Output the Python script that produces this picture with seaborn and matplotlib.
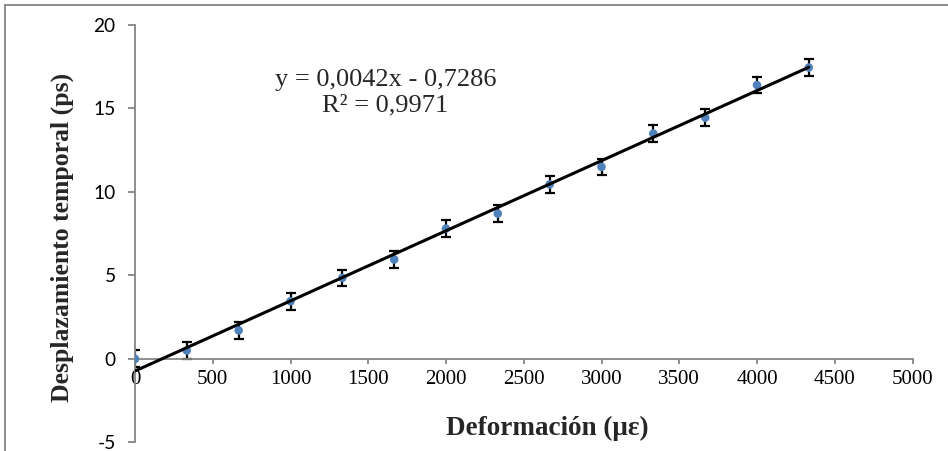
import matplotlib
matplotlib.use("Agg")
import matplotlib.pyplot as plt
import numpy as np
import pandas as pd
import seaborn as sns
from matplotlib.patches import Rectangle

# Measured time shift versus applied strain
strain = [0, 333, 667, 1000, 1333, 1667, 2000, 2333, 2667, 3000, 3333, 3667, 4000, 4333]
delay = [0.0, 0.5, 1.7, 3.45, 4.85, 5.95, 7.8, 8.7, 10.45, 11.5, 13.5, 14.45, 16.4, 17.45]
delay_err = [0.5] * len(strain)

# Linear trendline coefficients
slope = 0.0042
intercept = -0.7286
r_squared = 0.9971

x_ticks = [0, 500, 1000, 1500, 2000, 2500, 3000, 3500, 4000, 4500, 5000]
y_ticks = [-5, 0, 5, 10, 15, 20]

sns.set_theme(style="white")
serif = "Liberation Serif"
sans = "Lato"
plt.rcParams["font.family"] = [serif, "DejaVu Serif"]
plt.rcParams["xtick.labelsize"] = 15
plt.rcParams["ytick.labelsize"] = 13.8
axis_grey = "#868686"
point_blue = "#4F81BD"

W, H = 948, 451
fig = plt.figure(figsize=(W / 100, H / 100), dpi=100)
left_px, right_px, top_px, bottom_px = 135, 912.5, 25, 442.3
ax = fig.add_axes([left_px / W, 1 - bottom_px / H,
                   (right_px - left_px) / W, (bottom_px - top_px) / H])

# Spines are placed before tick labels are styled (moving a spine rebuilds ticks)
for side in ("top", "right"):
    ax.spines[side].set_visible(False)
ax.spines["bottom"].set_position(("data", 0))
for side in ("bottom", "left"):
    ax.spines[side].set_color(axis_grey)
    ax.spines[side].set_linewidth(1.3)

df = pd.DataFrame({"strain": strain, "delay": delay, "err": delay_err})

ax.errorbar(df["strain"], df["delay"], yerr=df["err"], fmt="none",
            ecolor="black", elinewidth=1.6, capsize=3.8, capthick=1.6, zorder=2)
sns.scatterplot(data=df, x="strain", y="delay", ax=ax, color=point_blue,
                s=38, edgecolor="none", zorder=3, legend=False)

fit_x = np.array([strain[0], strain[-1]], dtype=float)
fit = pd.DataFrame({"strain": fit_x, "delay": slope * fit_x + intercept})
sns.lineplot(data=fit, x="strain", y="delay", ax=ax, color="black",
             linewidth=2.2, zorder=4)

ax.set_xlim(0, 5000)
ax.set_ylim(-5, 20)
ax.set_xticks(x_ticks)
ax.set_yticks(y_ticks)
ax.set_xticklabels([str(t) for t in x_ticks], fontfamily=serif)
ax.set_yticklabels([str(t) for t in y_ticks], fontfamily=sans)
ax.tick_params(axis="x", bottom=True, direction="out", length=3.6, width=1.3,
               color=axis_grey, pad=4.5, labelcolor="black")
ax.tick_params(axis="y", left=True, direction="out", length=5, width=1.3,
               color=axis_grey, pad=9, labelcolor="black")
ax.grid(False)
ax.set_facecolor("white")
ax.set_xlabel("")
ax.set_ylabel("")

fig.text(547 / W, 1 - 428 / H, "Deformación (με)", ha="center", va="center",
         fontweight="bold", fontsize=19.5)
fig.text(62 / W, 1 - 237 / H, "Desplazamiento temporal (ps)", ha="center",
         va="center", rotation=90, fontweight="bold", fontsize=18.5)

eq_text = f"y = {slope:.4f}x - {abs(intercept):.4f}".replace(".", ",")
r2_text = f"R² = {r_squared:.4f}".replace(".", ",")
fig.text(386 / W, 1 - 80 / H, eq_text, ha="center", va="center", fontsize=19)
fig.text(385 / W, 1 - 105 / H, r2_text, ha="center", va="center", fontsize=19)

# Chart-area border
fig.patches.append(Rectangle((5 / W, -0.2), 1.5, (H - 5) / H + 0.2,
                             transform=fig.transFigure, fill=False,
                             edgecolor="#8a8a8a", linewidth=1.4))

fig.savefig("out.png", dpi=100, facecolor="white")
